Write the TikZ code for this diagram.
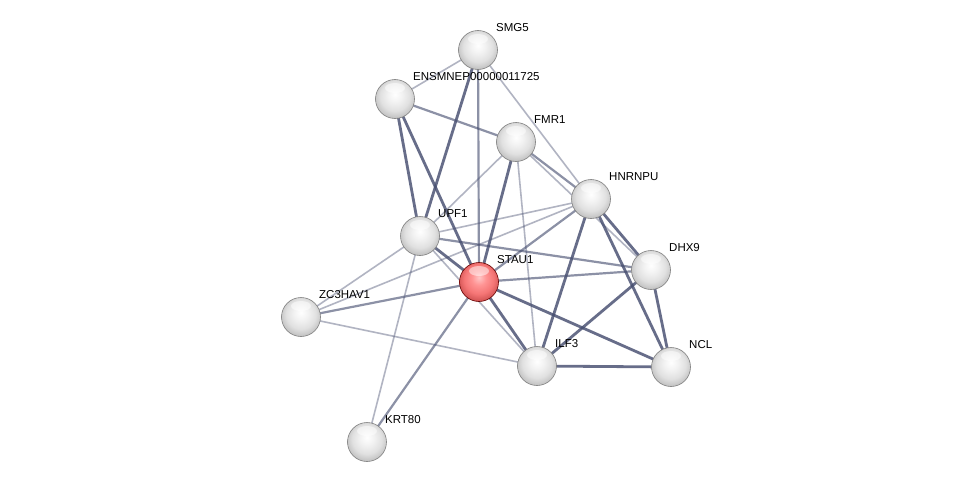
\documentclass[tikz,border=0pt]{standalone}
\usepackage{fontspec}
\setmainfont{Liberation Sans}
\usetikzlibrary{calc}
\pgfdeclarelayer{back}
\pgfdeclarelayer{bg}
\pgfsetlayers{back,bg,main}
\definecolor{edgecol}{RGB}{70,78,112}
\pgfdeclareradialshading{greyball}{\pgfpoint{0bp}{6bp}}{%
  color(0bp)=(white); color(9bp)=(white!95!black); color(19bp)=(white!88!black);
  color(27bp)=(white!76!black); color(30bp)=(white!55!black); color(50bp)=(white!55!black)}
\pgfdeclareradialshading{redball}{\pgfpoint{0bp}{6bp}}{%
  color(0bp)=(red!22!white); color(9bp)=(red!42!white); color(19bp)=(red!52!white!96!black);
  color(27bp)=(red!60!white!82!black); color(30bp)=(red!60!black); color(50bp)=(red!60!black)}
\tikzset{
  ball/.style={circle, minimum size=39pt, inner sep=0pt, shading=greyball, draw=black!50, line width=0.6pt},
  redb/.style={circle, minimum size=39pt, inner sep=0pt, shading=redball, draw=red!40!black, line width=0.6pt},
  lbl/.style={anchor=west, inner sep=0pt, font=\fontsize{11.5}{13}\selectfont, text=black},
  weak/.style={draw=edgecol, line width=1.6pt, opacity=0.42},
  med/.style={draw=edgecol, line width=2.2pt, opacity=0.62},
  strong/.style={draw=edgecol, line width=2.8pt, opacity=0.82},
  shine/.style={fill=white, opacity=0.5, draw=none}
}
\begin{document}
\begin{tikzpicture}[x=1pt,y=-1pt]
\begin{pgfonlayer}{back}
\fill[white] (0,0) rectangle (976,487);
\end{pgfonlayer}
\useasboundingbox (0,0) rectangle (976,487);
% nodes
\node[ball] (smg5) at (478,50) {};
\node[ball] (ensm) at (395,99) {};
\node[ball] (fmr1) at (516,142) {};
\node[ball] (hnrnpu) at (591,199) {};
\node[ball] (upf1) at (420,236) {};
\node[ball] (dhx9) at (651,270) {};
\node[redb] (stau1) at (479,282) {};
\node[ball] (zc3) at (301,317) {};
\node[ball] (ilf3) at (537,366) {};
\node[ball] (ncl) at (671,367) {};
\node[ball] (krt80) at (367,442) {};
% labels
\node[lbl] (smg5-l) at ([xshift=18pt,yshift=22pt]smg5.center) {SMG5};
\node[lbl] (ensm-l) at ([xshift=18pt,yshift=22pt]ensm.center) {ENSMNEP00000011725};
\node[lbl] (fmr1-l) at ([xshift=18pt,yshift=22pt]fmr1.center) {FMR1};
\node[lbl] (hnrnpu-l) at ([xshift=18pt,yshift=22pt]hnrnpu.center) {HNRNPU};
\node[lbl] (upf1-l) at ([xshift=18pt,yshift=22pt]upf1.center) {UPF1};
\node[lbl] (dhx9-l) at ([xshift=18pt,yshift=22pt]dhx9.center) {DHX9};
\node[lbl] (stau1-l) at ([xshift=18pt,yshift=22pt]stau1.center) {STAU1};
\node[lbl] (zc3-l) at ([xshift=18pt,yshift=22pt]zc3.center) {ZC3HAV1};
\node[lbl] (ilf3-l) at ([xshift=18pt,yshift=22pt]ilf3.center) {ILF3};
\node[lbl] (ncl-l) at ([xshift=18pt,yshift=22pt]ncl.center) {NCL};
\node[lbl] (krt80-l) at ([xshift=18pt,yshift=22pt]krt80.center) {KRT80};
% edges
\begin{pgfonlayer}{bg}
\draw[weak] (smg5.center) -- (ensm.center);
\draw[strong] (smg5.center) -- (upf1.center);
\draw[med] (smg5.center) -- (stau1.center);
\draw[weak] (smg5.center) -- (hnrnpu.center);
\draw[med] (ensm.center) -- (fmr1.center);
\draw[strong] (ensm.center) -- (upf1.center);
\draw[strong] (ensm.center) -- (stau1.center);
\draw[weak] (fmr1.center) -- (upf1.center);
\draw[strong] (fmr1.center) -- (stau1.center);
\draw[weak] (fmr1.center) -- (ilf3.center);
\draw[med] (fmr1.center) -- (hnrnpu.center);
\draw[weak] (fmr1.center) -- (dhx9.center);
\draw[weak] (hnrnpu.center) -- (upf1.center);
\draw[med] (hnrnpu.center) -- (stau1.center);
\draw[weak] (hnrnpu.center) -- (zc3.center);
\draw[strong] (hnrnpu.center) -- (dhx9.center);
\draw[strong] (hnrnpu.center) -- (ilf3.center);
\draw[strong] (hnrnpu.center) -- (ncl.center);
\draw[strong] (upf1.center) -- (stau1.center);
\draw[med] (upf1.center) -- (dhx9.center);
\draw[weak] (upf1.center) -- (zc3.center);
\draw[weak] (upf1.center) -- (krt80.center);
\draw[weak] (upf1.center) -- (ilf3.center);
\draw[med] (stau1.center) -- (dhx9.center);
\draw[med] (stau1.center) -- (zc3.center);
\draw[strong] (stau1.center) -- (ilf3.center);
\draw[strong] (stau1.center) -- (ncl.center);
\draw[med] (stau1.center) -- (krt80.center);
\draw[strong] (dhx9.center) -- (ilf3.center);
\draw[strong] (dhx9.center) -- (ncl.center);
\draw[strong] (ilf3.center) -- (ncl.center);
\draw[weak] (zc3.center) -- (ilf3.center);
\end{pgfonlayer}
% gloss highlights
\foreach \n in {smg5,ensm,fmr1,hnrnpu,upf1,dhx9,stau1,zc3,ilf3,ncl,krt80}{
  \fill[shine] ([yshift=11pt]\n.center) ellipse (10pt and 5pt);
}
\end{tikzpicture}
\end{document}
